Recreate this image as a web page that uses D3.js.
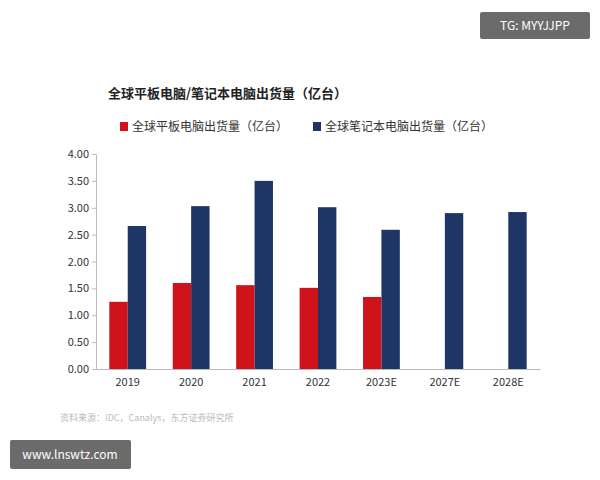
<!DOCTYPE html><html><head><meta charset="utf-8"><script src="https://cdn.jsdelivr.net/npm/d3@7"></script>
<style>body{margin:0;background:#fff}svg{display:block}</style></head><body><svg width="600" height="480"></svg>
<script>
const categories=["2019","2020","2021","2022","2023E","2027E","2028E"];
const tablet=[1.25,1.60,1.56,1.51,1.34,null,null];
const notebook=[2.66,3.03,3.50,3.01,2.59,2.90,2.92];
const yTicks=[0,0.5,1,1.5,2,2.5,3,3.5,4];
const seriesNames=["全球平板电脑出货量（亿台）","全球笔记本电脑出货量（亿台）"];
const colors=["#d0121b","#1e3566"];
const svg=d3.select("svg");
const font="'Noto Sans CJK SC',sans-serif";
const x=d3.scaleBand().domain(categories).range([96,540]).paddingInner(0.42).paddingOuter(0.21);
const y=d3.scaleLinear().domain([0,4]).range([369,154]);
const ya=svg.append("g").attr("transform","translate(96,0)").call(d3.axisLeft(y).tickValues(yTicks).tickFormat(d3.format(".2f")).tickSize(4));
ya.selectAll("text").attr("font-family",font).attr("font-size",11).attr("fill","#333");
ya.selectAll("line,path").attr("stroke","#bbb");
const xa=svg.append("g").attr("transform","translate(0,369)").call(d3.axisBottom(x).tickSize(0).tickPadding(9));
xa.selectAll("text").attr("font-family",font).attr("font-size",11).attr("fill","#333");
xa.select("path").attr("stroke","#bbb");
const bw=x.bandwidth()/2;
[tablet,notebook].forEach((s,i)=>{
 svg.append("g").selectAll("rect").data(categories.map((c,j)=>({c,v:s[j]})).filter(d=>d.v!=null)).join("rect")
 .attr("x",d=>x(d.c)+i*bw).attr("width",bw).attr("y",d=>y(d.v)).attr("height",d=>369-y(d.v)).attr("fill",colors[i]);
});
svg.append("text").attr("x",108).attr("y",98).text("全球平板电脑/笔记本电脑出货量（亿台）").attr("font-family","'Noto Sans CJK SC'").attr("font-weight","bold").attr("font-size",13).attr("fill","#222");
const lx=[120,313];
seriesNames.forEach((n,i)=>{
 svg.append("rect").attr("x",lx[i]).attr("y",122).attr("width",8).attr("height",9).attr("fill",colors[i]);
 svg.append("text").attr("x",lx[i]+12).attr("y",131).text(n).attr("font-family",font).attr("font-size",12).attr("fill","#333");
});
svg.append("text").attr("x",60).attr("y",421).text("资料来源：IDC，Canalys，东方证券研究所").attr("font-family",font).attr("font-size",9).attr("fill","#bbb");
svg.append("rect").attr("x",480).attr("y",12).attr("width",110).attr("height",27).attr("rx",2).attr("fill","#6b6b6b");
svg.append("text").attr("x",535).attr("y",30).attr("text-anchor","middle").text("TG: MYYJJPP").attr("font-family",font).attr("font-size",12).attr("fill","#fff");
svg.append("rect").attr("x",10).attr("y",440).attr("width",121).attr("height",29).attr("rx",2).attr("fill","#6b6b6b");
svg.append("text").attr("x",70).attr("y",459).attr("text-anchor","middle").text("www.lnswtz.com").attr("font-family",font).attr("font-size",12).attr("fill","#fff");
</script></body></html>
